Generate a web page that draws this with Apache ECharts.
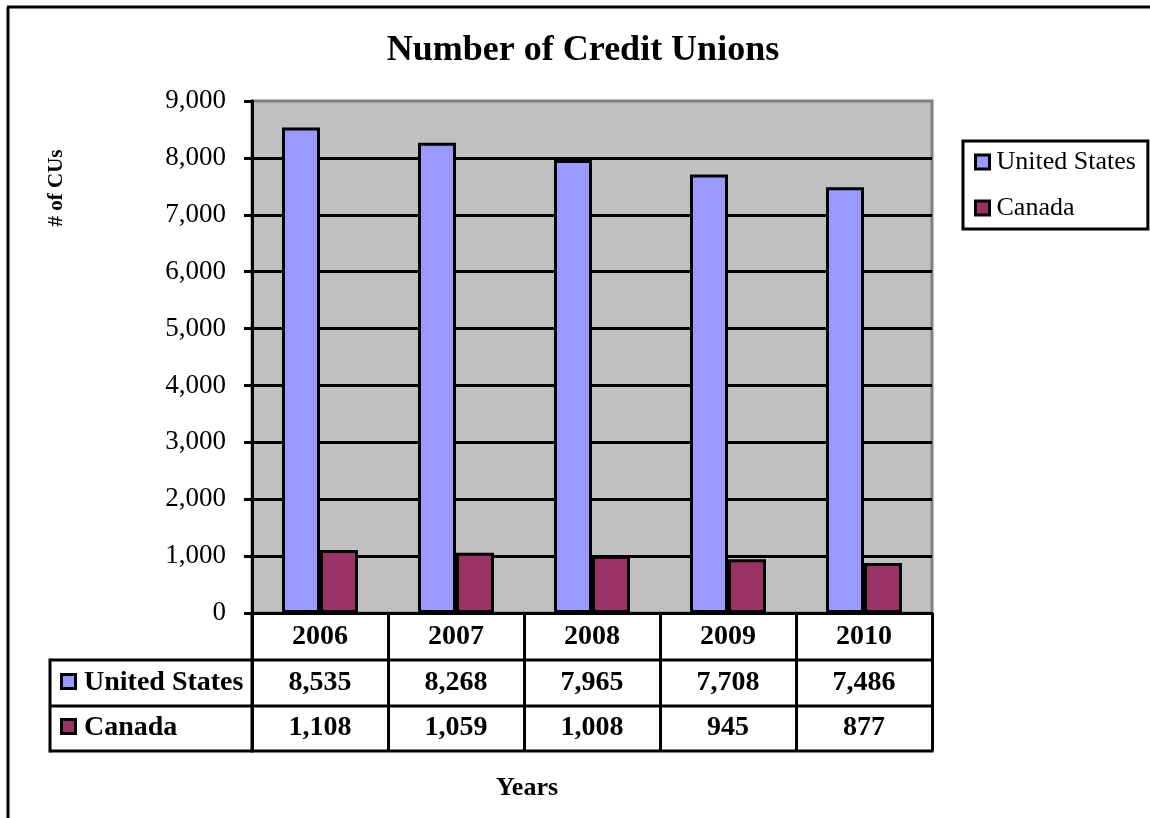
<!DOCTYPE html>
<html>
<head>
<meta charset="utf-8">
<script src="https://cdn.jsdelivr.net/npm/echarts@6/dist/echarts.min.js"></script>
<style>
  html, body { margin: 0; padding: 0; background: #fff; }
  #chart { width: 1150px; height: 818px; }
</style>
</head>
<body>
<div id="chart"></div>
<script>
// Credit union counts by year
const years = ['2006', '2007', '2008', '2009', '2010'];
const seriesNames = ['United States', 'Canada'];
const unitedStates = [8535, 8268, 7965, 7708, 7486];
const canada = [1108, 1059, 1008, 945, 877];
const seriesColors = ['#9999FF', '#993366'];

const FONT = "'Liberation Serif', 'Times New Roman', serif";
const fmt = v => v.toLocaleString('en-US');

const chart = echarts.init(document.getElementById('chart'), null, { renderer: 'canvas' });

// table geometry (rows under the plot)
const axisY = 613;
const rowLines = [660, 706, 751];
const tableLeft = 50;

chart.setOption({
  animation: false,
  backgroundColor: '#fff',
  grid: {
    left: 252, top: 101, right: 218, bottom: 818 - axisY,
    show: true, backgroundColor: '#C0C0C0', borderColor: '#808080', borderWidth: 3
  },
  legend: {
    orient: 'vertical',
    left: 963, top: 141,
    data: seriesNames,
    icon: 'rect',
    itemWidth: 14, itemHeight: 14, itemGap: 20,
    padding: [8, 12, 8, 11],
    borderColor: '#000', borderWidth: 3,
    itemStyle: { borderColor: '#000', borderWidth: 3 },
    textStyle: { fontFamily: FONT, fontSize: 26, color: '#000', padding: [0, 0, 0, 2] }
  },
  xAxis: {
    type: 'category',
    data: years,
    axisLine: { show: true, lineStyle: { color: '#000', width: 3 } },
    axisTick: { show: true, length: rowLines[2] - axisY, lineStyle: { color: '#000', width: 3 } },
    axisLabel: {
      fontFamily: FONT, fontSize: 28, fontWeight: 'bold', color: '#000',
      verticalAlign: 'middle', margin: 24
    },
    splitLine: { show: false }
  },
  yAxis: {
    type: 'value',
    min: 0, max: 9000, interval: 1000,
    axisLine: { show: true, lineStyle: { color: '#000', width: 3 } },
    axisTick: { show: true, length: 8, lineStyle: { color: '#000', width: 3 } },
    axisLabel: { fontFamily: FONT, fontSize: 27, color: '#000', margin: 26, formatter: fmt },
    splitLine: { show: true, showMaxLine: false, lineStyle: { color: '#000', width: 3 } }
  },
  series: [
    {
      name: seriesNames[0], type: 'bar', data: unitedStates,
      barWidth: 38, barGap: '0%',
      itemStyle: { color: seriesColors[0], borderColor: '#000', borderWidth: 3 }
    },
    {
      name: seriesNames[1], type: 'bar', data: canada,
      barWidth: 38, barGap: '0%',
      itemStyle: { color: seriesColors[1], borderColor: '#000', borderWidth: 3 }
    }
  ]
});

// Data table, title and frame laid out from the category axis positions
const centers = years.map(y => chart.convertToPixel({ xAxisIndex: 0 }, y));
const catW = centers[1] - centers[0];
const tableRight = centers[centers.length - 1] + catW / 2;
const plotLeft = centers[0] - catW / 2;
const rowCenters = [683, 728];
const rows = [unitedStates, canada];

const black = { stroke: '#000', lineWidth: 3 };
const g = [];

// frame lines
g.push({ type: 'line', shape: { x1: 7, y1: 7, x2: 1150, y2: 7 }, style: black, silent: true });
g.push({ type: 'line', shape: { x1: 8, y1: 7, x2: 8, y2: 818 }, style: black, silent: true });

// title
g.push({
  type: 'text', x: 583, y: 51,
  style: { text: 'Number of Credit Unions', fontFamily: FONT, fontSize: 36, fontWeight: 'bold',
           fill: '#000', align: 'center', verticalAlign: 'middle' }
});

// y-axis name
g.push({
  type: 'text', x: 57, y: 188, rotation: Math.PI / 2,
  style: { text: '# of CUs', fontFamily: FONT, fontSize: 21, fontWeight: 'bold',
           fill: '#000', align: 'center', verticalAlign: 'middle' }
});

// x-axis name
g.push({
  type: 'text', x: 527, y: 788,
  style: { text: 'Years', fontFamily: FONT, fontSize: 26, fontWeight: 'bold',
           fill: '#000', align: 'center', verticalAlign: 'middle' }
});

// table horizontal rules
rowLines.forEach(y => {
  g.push({ type: 'line', shape: { x1: tableLeft, y1: y, x2: tableRight + 1.5, y2: y }, style: black, silent: true });
});
// left edge of the row-label column and of the value columns
g.push({ type: 'line', shape: { x1: tableLeft, y1: rowLines[0] - 1.5, x2: tableLeft, y2: rowLines[2] + 1.5 }, style: black, silent: true });
g.push({ type: 'line', shape: { x1: plotLeft, y1: axisY, x2: plotLeft, y2: rowLines[2] + 1.5 }, style: black, silent: true });

// row labels with colour keys
seriesNames.forEach((name, i) => {
  const cy = rowCenters[i];
  g.push({
    type: 'rect', shape: { x: 61.5, y: cy - 8.5, width: 14, height: 14 },
    style: { fill: seriesColors[i], stroke: '#000', lineWidth: 3 }
  });
  g.push({
    type: 'text', x: 84, y: cy,
    style: { text: name, fontFamily: FONT, fontSize: 28, fontWeight: 'bold',
             fill: '#000', align: 'left', verticalAlign: 'middle' }
  });
  // values
  rows[i].forEach((v, j) => {
    g.push({
      type: 'text', x: centers[j], y: cy,
      style: { text: fmt(v), fontFamily: FONT, fontSize: 28, fontWeight: 'bold',
               fill: '#000', align: 'center', verticalAlign: 'middle' }
    });
  });
});

chart.setOption({ graphic: g });
</script>
</body>
</html>
